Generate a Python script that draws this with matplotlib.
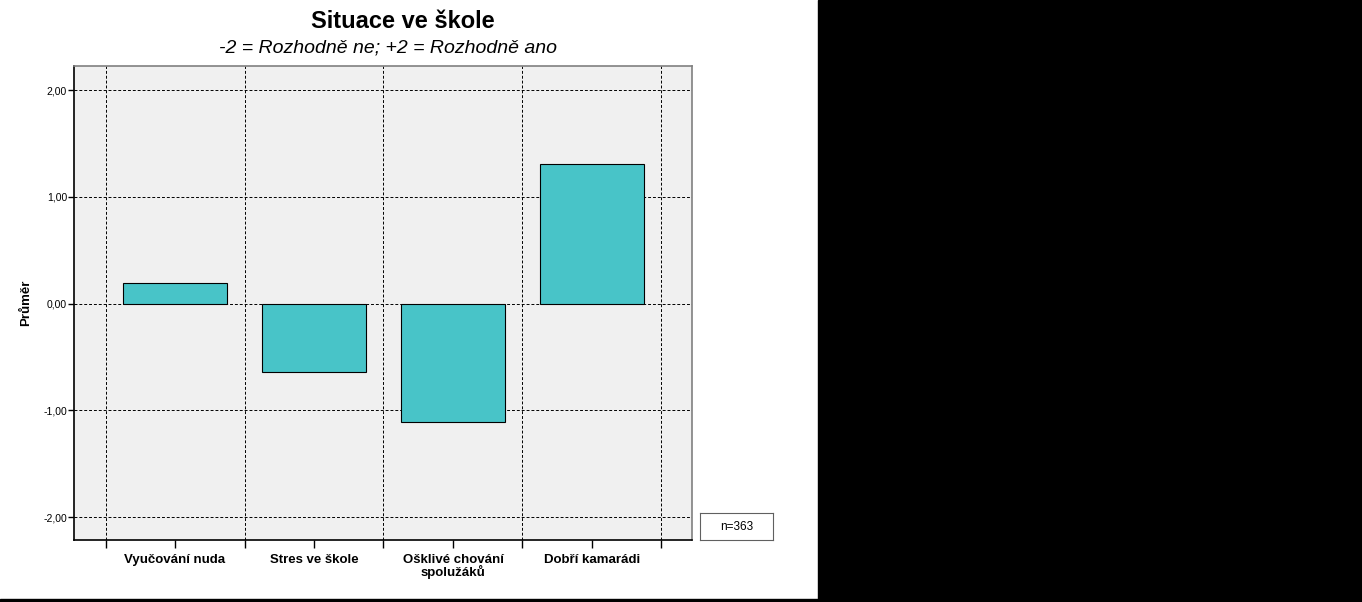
import matplotlib.pyplot as plt
from matplotlib.patches import Rectangle
from matplotlib.ticker import FixedLocator, FuncFormatter
import numpy as np

plt.rcParams["font.family"] = ["Liberation Sans", "DejaVu Sans"]

categories = ["Vyučování nuda", "Stres ve škole", "Ošklivé chování\nspolužáků", "Dobří kamarádi"]
means = [0.19, -0.645, -1.11, 1.305]
yticks = [-2.0, -1.0, 0.0, 1.0, 2.0]

W, H = 1362, 602
fig = plt.figure(figsize=(W / 100, H / 100), dpi=100)
fig.patch.set_facecolor("white")

def px(x0, y0, x1, y1):
    return [x0 / W, 1 - y1 / H, (x1 - x0) / W, (y1 - y0) / H]

# black area on the right and bottom strip
fig.patches.append(Rectangle((818 / W, 0), 1 - 818 / W, 1, transform=fig.transFigure,
                             color="black", zorder=0))
fig.patches.append(Rectangle((0, 0), 1, 3 / H, transform=fig.transFigure,
                             color="black", zorder=0))

ax = fig.add_axes(px(74, 66, 692, 540))
ax.set_facecolor("#f0f0f0")
xs = np.arange(len(categories))
ax.bar(xs, means, width=0.75, color="#48c4c8", edgecolor="black", linewidth=0.8, zorder=3)

ax.set_xlim(-0.727, len(categories) - 1 + 0.72)
ax.set_ylim(-2.215, 2.225)

ax.set_yticks(yticks)
ax.yaxis.set_major_formatter(FuncFormatter(lambda v, p: ("%.2f" % v).replace(".", ",")))
ax.set_xticks(xs)
ax.set_xticklabels(categories, fontsize=9.5, fontweight="bold", linespacing=0.9)
ax.xaxis.set_minor_locator(FixedLocator(np.arange(-0.5, len(categories) + 0.5, 1)))

ax.tick_params(axis="y", length=4, width=1, labelsize=7.5, pad=1)
ax.tick_params(axis="x", which="both", length=6, width=1, pad=4, direction="out")

ax.grid(True, axis="y", which="major", color="black", linestyle=(0, (3, 2)), linewidth=0.7, zorder=1)
ax.grid(True, axis="x", which="minor", color="black", linestyle=(0, (3, 2)), linewidth=0.7, zorder=1)

for s in ["top", "right"]:
    ax.spines[s].set_color("#808080")
    ax.spines[s].set_linewidth(1.2)
for s in ["left", "bottom"]:
    ax.spines[s].set_color("black")
    ax.spines[s].set_linewidth(1.2)

ax.set_ylabel("Průměr", fontsize=9.5, fontweight="bold", labelpad=8)

fig.text(403 / W, 1 - 22 / H, "Situace ve škole", ha="center", va="center",
         fontsize=17, fontweight="bold")
fig.text(388 / W, 1 - 48 / H, "-2 = Rozhodně ne; +2 = Rozhodně ano", ha="center", va="center",
         fontsize=14, style="italic")

box = fig.add_axes(px(700, 513, 773, 540))
box.set_xticks([])
box.set_yticks([])
for s in box.spines.values():
    s.set_color("#606060")
box.text(0.5, 0.5, "n=363", ha="center", va="center", fontsize=8.5, transform=box.transAxes)

fig.savefig("out.png", dpi=100)
